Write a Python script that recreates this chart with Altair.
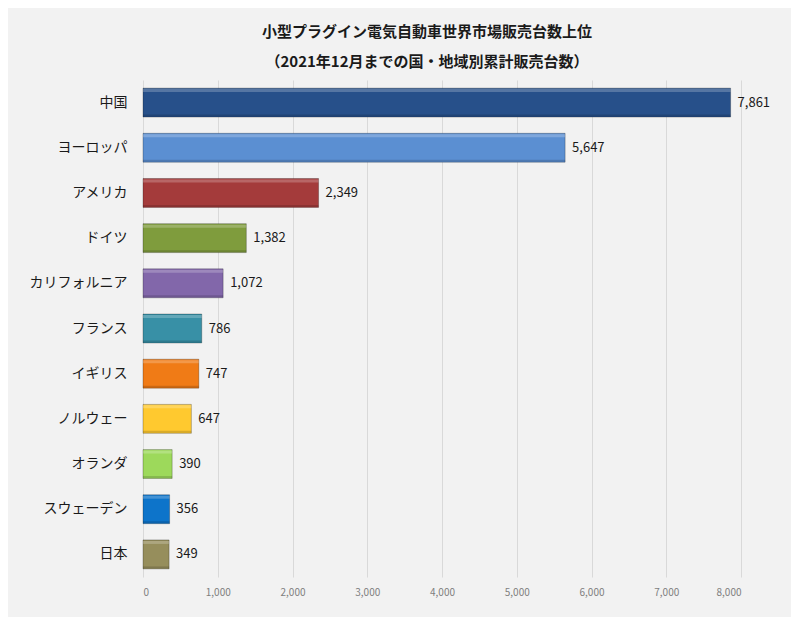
import altair as alt
import pandas as pd

regions = ["中国", "ヨーロッパ", "アメリカ", "ドイツ", "カリフォルニア", "フランス",
           "イギリス", "ノルウェー", "オランダ", "スウェーデン", "日本"]
sales = [7861, 5647, 2349, 1382, 1072, 786, 747, 647, 390, 356, 349]
colors = ["#27508a", "#5b8fd2", "#a43b3b", "#7f9c3d", "#8267aa", "#3890a6",
          "#f07b16", "#ffc92f", "#9dd95b", "#0d74ca", "#968e5c"]
x_ticks = [0, 1000, 2000, 3000, 4000, 5000, 6000, 7000, 8000]

df = pd.DataFrame({"region": regions, "sales": sales})

font = "Noto Sans CJK JP"

y_enc = alt.Y("region:N", sort=regions, title=None,
              scale=alt.Scale(paddingInner=0.36, paddingOuter=0.18),
              axis=alt.Axis(labelFont=font, labelFontSize=14, labelColor="#1a1a1a",
                            labelPadding=16, ticks=False, domain=False))
x_enc = alt.X("sales:Q", title=None,
              scale=alt.Scale(domain=[0, 8000], nice=False),
              axis=alt.Axis(values=x_ticks, format=",d", labelFont=font, labelFontSize=10,
                            labelColor="#7f7f7f", labelPadding=10, ticks=False,
                            domain=False, gridColor="#d9d9d9"))
color_enc = alt.Color("region:N", scale=alt.Scale(domain=regions, range=colors), legend=None)

base = alt.Chart(df).encode(y=y_enc, x=x_enc)

bars = base.mark_bar(strokeWidth=1, stroke="#000000", strokeOpacity=0.25).encode(
    color=color_enc
)

# thin lighter strip along the top edge, for the bevel look
shine = base.mark_bar(height=3, yOffset=-12, color="white", opacity=0.22)

# darker strip along the bottom edge
shade = base.mark_bar(height=2, yOffset=13, color="black", opacity=0.15)

labels = base.mark_text(align="left", baseline="middle", dx=7, font=font,
                        fontSize=13, color="#1a1a1a").encode(
    text=alt.Text("sales:Q", format=",")
)

chart = (
    alt.layer(bars, shine, shade, labels)
    .properties(
        width=598,
        height=497,
        background="#f2f2f2",
        autosize=alt.AutoSizeParams(type="none"),
        padding={"left": 135, "top": 72, "right": 50, "bottom": 40},
        title=alt.TitleParams(
            ["小型プラグイン電気自動車世界市場販売台数上位",
             "（2021年12月までの国・地域別累計販売台数）"],
            font=font, fontSize=15, fontWeight="bold", color="#1a1a1a",
            lineHeight=30, anchor="middle", dx=-15, offset=10,
        ),
    )
    .configure_view(stroke=None)
)

chart.save("out.html", embed_options={"renderer": "svg", "actions": False})
